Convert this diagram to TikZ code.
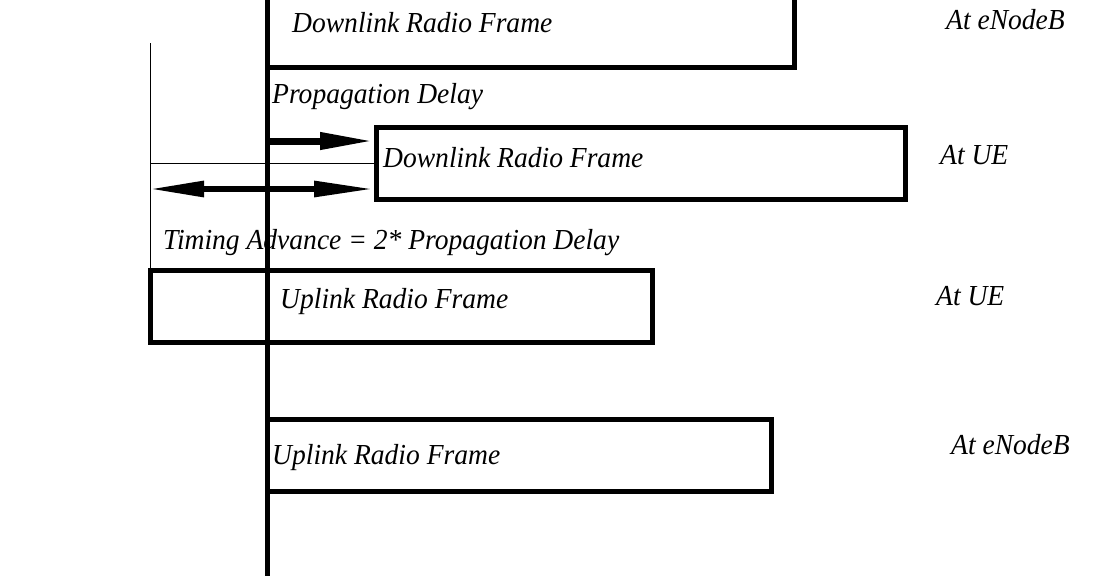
\documentclass[tikz,border=0pt]{standalone}
\usepackage{fontspec}
\setmainfont{Liberation Serif}[FakeStretch=0.95]
\usetikzlibrary{arrows.meta}
\begin{document}
\begin{tikzpicture}[x=1pt,y=-1pt,
  frame/.style={draw, line width=5pt, anchor=north west, inner sep=0pt, outer sep=0pt},
  lbl/.style={anchor=base west, inner sep=0pt, font=\fontsize{29}{33}\selectfont\itshape},
  thinline/.style={line width=1pt},
  bigarrow/.style={-{Triangle[length=54pt,width=16pt]}, line width=7pt},
  dblarrow/.style={{Triangle[length=55pt,width=15pt]}-{Triangle[length=60pt,width=15pt]}, line width=6pt}
]
\useasboundingbox (0,0) rectangle (1096,576);
% frames
\node[frame, minimum width=527pt, minimum height=107.5pt] (dl1) at (267,-40) {};
\node[frame, minimum width=529pt, minimum height=71.5pt] (dl2) at (376,127.5) {};
\node[frame, minimum width=502pt, minimum height=72pt] (ul1) at (150.5,270.5) {};
\node[frame, minimum width=504pt, minimum height=72pt] (ul2) at (267,419.5) {};
% labels
\node[lbl] (t-dl1) at (292,32) {Downlink Radio Frame};
\node[lbl] (t-pd) at (272,103) {Propagation Delay};
\node[lbl] (t-dl2) at (383,167) {Downlink Radio Frame};
\node[lbl] (t-ta) at (163,249) {Timing Advance = 2* Propagation Delay};
\node[lbl] (t-ul1) at (280,308) {Uplink Radio Frame};
\node[lbl] (t-ul2) at (272,464) {Uplink Radio Frame};
\node[lbl] (a1) at (946,29) {At eNodeB};
\node[lbl] (a2) at (940,164) {At UE};
\node[lbl] (a3) at (936,305) {At UE};
\node[lbl] (a4) at (951,454) {At eNodeB};
% thin guide lines
\coordinate (g-top) at (150,43);
\coordinate (h-left) at (150,163);
\draw[thinline] (g-top) -- (g-top |- ul1.north);
\draw[thinline] (h-left) -- (h-left -| dl2.west);
% arrows
\coordinate (pd-start) at (267,141);
\draw[bigarrow] (pd-start) -- ([xshift=-2pt]pd-start -| dl2.west);
\coordinate (ta-left) at (149,189);
\draw[dblarrow] (ta-left) -- ([xshift=-2pt]ta-left -| dl2.west);
% main time line
\coordinate (v-top) at (267,-5);
\coordinate (v-bot) at (267,581);
\draw[line width=5pt] (v-top) -- (v-bot);
\end{tikzpicture}
\end{document}
